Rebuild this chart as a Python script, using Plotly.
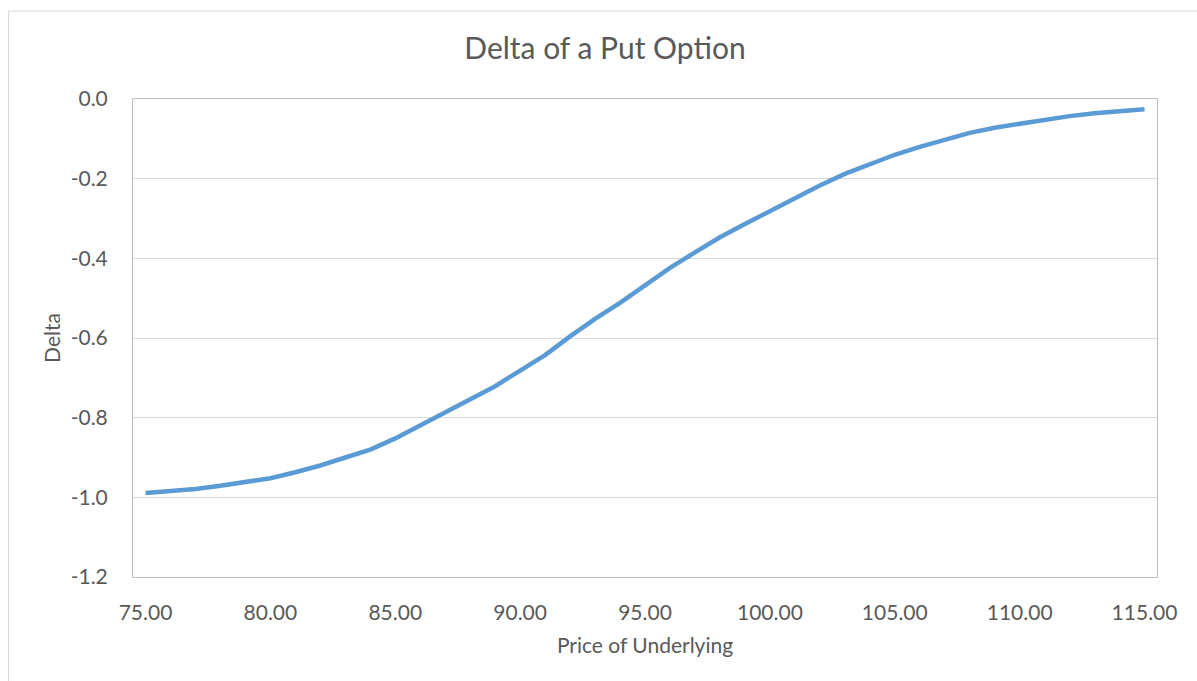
import plotly.graph_objects as go

# Underlying price (1-unit steps) and the put delta at each price
price = list(range(75, 116))
delta = [
    -0.989, -0.985, -0.979, -0.971, -0.962, -0.952, -0.937, -0.920, -0.900, -0.880,
    -0.852, -0.820, -0.786, -0.753, -0.721, -0.682, -0.643, -0.596, -0.552, -0.512,
    -0.467, -0.424, -0.385, -0.347, -0.314, -0.281, -0.248, -0.217, -0.188, -0.163,
    -0.140, -0.120, -0.102, -0.085, -0.072, -0.062, -0.052, -0.043, -0.036, -0.030,
    -0.026,
]
x_ticks = [75, 80, 85, 90, 95, 100, 105, 110, 115]
x_labels = ["75.00", "80.00", "85.00", "90.00", "95.00", "100.00", "105.00", "110.00", "115.00"]
y_ticks = [0.0, -0.2, -0.4, -0.6, -0.8, -1.0, -1.2]
y_labels = ["0.0", "-0.2", "-0.4", "-0.6", "-0.8", "-1.0", "-1.2"]

W, H = 1197, 681
L, R, T, B = 133, 40, 99, 103.5
plot_w = W - L - R
plot_h = H - T - B

text_color = "#595959"
font = "Lato, 'Open Sans', sans-serif"

fig = go.Figure()
fig.add_trace(go.Scatter(
    x=price, y=delta, mode="lines",
    line=dict(color="#5B9BD5", width=4.5),
    hoverinfo="skip", showlegend=False,
))

# outer chart frame (left and top edges visible)
px_to_xp = lambda px: (px - L) / plot_w
py_to_yp = lambda py: (H - B - py) / plot_h
frame = dict(color="#D9D9D9", width=1)
fig.add_shape(type="line", xref="paper", yref="paper",
              x0=px_to_xp(8.5), x1=px_to_xp(8.5), y0=py_to_yp(H + 5), y1=py_to_yp(11), line=frame)
fig.add_shape(type="line", xref="paper", yref="paper",
              x0=px_to_xp(8.5), x1=px_to_xp(W + 5), y0=py_to_yp(11), y1=py_to_yp(11), line=frame)

fig.update_layout(
    width=W, height=H,
    margin=dict(l=L, r=R, t=T, b=B),
    paper_bgcolor="white", plot_bgcolor="white",
    font=dict(family=font, color=text_color),
    title=dict(text="Delta of a Put Option", x=605 / W, xref="container", xanchor="center",
               y=1 - 48 / H, yref="container", yanchor="middle",
               font=dict(size=30, color=text_color, family=font)),
    xaxis=dict(
        range=[74.5, 115.5], tickvals=x_ticks, ticktext=x_labels,
        showgrid=False, zeroline=False, ticks="",
        showline=True, linecolor="#BFBFBF", linewidth=1, mirror=True,
        tickfont=dict(size=21, color=text_color), ticklabelstandoff=17,
        title=dict(text="Price of Underlying", font=dict(size=21, color=text_color), standoff=15),
    ),
    yaxis=dict(
        range=[-1.2, 0.0], tickvals=y_ticks, ticktext=y_labels,
        showgrid=True, gridcolor="#D9D9D9", gridwidth=1, zeroline=False, ticks="",
        showline=True, linecolor="#BFBFBF", linewidth=1, mirror=True,
        tickfont=dict(size=21, color=text_color), ticklabelstandoff=20,
        title=dict(text="Delta", font=dict(size=21, color=text_color), standoff=4),
    ),
)

fig.write_html("out.html")
